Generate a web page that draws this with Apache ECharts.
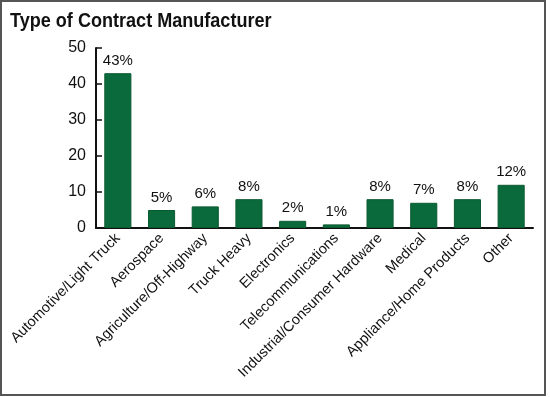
<!DOCTYPE html>
<html>
<head>
<meta charset="UTF-8">
<title>Type of Contract Manufacturer</title>
<script src="https://cdn.jsdelivr.net/npm/echarts@6/dist/echarts.min.js"></script>
<style>
html, body { margin: 0; padding: 0; background: #fff; }
#main { width: 550px; height: 397px; }
</style>
</head>
<body>
<div id="main"></div>
<script>
// data
var titleText = 'Type of Contract Manufacturer';
var categories = ['Automotive/Light Truck', 'Aerospace', 'Agriculture/Off-Highway', 'Truck Heavy',
	'Electronics', 'Telecommunications', 'Industrial/Consumer Hardware', 'Medical',
	'Appliance/Home Products', 'Other'];
var shares = [43, 5, 6, 8, 2, 1, 8, 7, 8, 12];
var yTicks = [0, 10, 20, 30, 40, 50];

var font = '"Liberation Sans", Arial, sans-serif';
var green = '#0b6a3b';

var myChart = echarts.init(document.getElementById('main'));
var option = {
	animation: false,
	textStyle: { fontFamily: font },
	graphic: [{
		type: 'rect',
		shape: { x: 1, y: 1, width: 544, height: 394 },
		style: { fill: 'none', stroke: '#555', lineWidth: 2 }
	}, {
		// title, squeezed to look like a condensed face
		type: 'text',
		x: 10,
		y: 11,
		scaleX: 0.86,
		style: {
			text: titleText,
			fontFamily: font,
			fontSize: 21,
			fontWeight: 'bold',
			fill: '#111'
		}
	}],
	grid: { left: 96, right: 17, top: 48, bottom: 169 },
	xAxis: {
		type: 'category',
		data: categories,
		axisLine: { lineStyle: { color: '#111', width: 2 } },
		axisTick: { show: false },
		axisLabel: {
			rotate: 45,
			interval: 0,
			margin: 8,
			fontSize: 14.5,
			color: '#111',
			fontFamily: font
		}
	},
	yAxis: {
		type: 'value',
		min: yTicks[0],
		max: yTicks[yTicks.length - 1],
		interval: 10,
		splitLine: { show: false },
		axisLine: { show: true, lineStyle: { color: '#111', width: 2 } },
		axisTick: { show: true, inside: true, length: 6, lineStyle: { color: '#111', width: 1.5 } },
		axisLabel: { fontSize: 16, color: '#111', margin: 10, fontFamily: font }
	},
	series: [{
		type: 'bar',
		data: shares,
		barCategoryGap: '38%',
		itemStyle: { color: green, borderColor: '#0a5a30', borderWidth: 1 },
		label: {
			show: true,
			position: 'top',
			distance: 5,
			formatter: '{c}%',
			fontSize: 15,
			color: '#111',
			fontFamily: font
		}
	}]
};
myChart.setOption(option);
</script>
</body>
</html>
